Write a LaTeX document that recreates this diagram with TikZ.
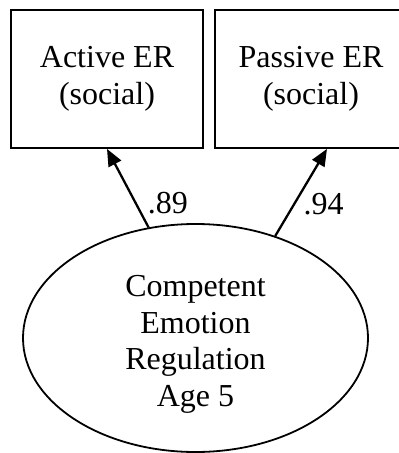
\documentclass[tikz,border=0pt]{standalone}
\usepackage{fontspec}
\setmainfont{Liberation Serif}
\usetikzlibrary{shapes.geometric}
\usetikzlibrary{arrows.meta}
\tikzset{
  obsbox/.style={draw, line width=1.8pt, minimum width=192pt, minimum height=138pt, inner sep=0pt, align=center},
  latentvar/.style={draw, ellipse, line width=1.8pt, minimum width=345pt, minimum height=228pt, inner sep=0pt},
  loading/.style={line width=2.3pt, -{Triangle[length=17pt,width=14pt]}},
  coef/.style={inner sep=0pt}
}

\begin{document}
\begin{tikzpicture}[x=1pt, y=-1pt, font=\fontsize{32}{36.6}\selectfont]
	    		\clip (0,0) rectangle (399,453);
	    		\node[obsbox] (active) at (107, 79) {Active ER\\(social)};
	    		\node[obsbox] (passive) at (311, 79) {Passive ER\\(social)};
	    		\node[latentvar] (latent) at (195.5, 338) {};
	    		\node[align=center, inner sep=0pt] (latenttext) at (195.5, 344.5) {Competent\\Emotion\\Regulation\\Age 5};
	    		\draw[loading] (latent.113) -- (active.south) node[coef, pos=0.31, right=11pt] {.89};
	    		\draw[loading] (latent.52) -- ([xshift=16pt]passive.south) node[coef, pos=0.37, right=8pt] {.94};
	    	\end{tikzpicture}
\end{document}
